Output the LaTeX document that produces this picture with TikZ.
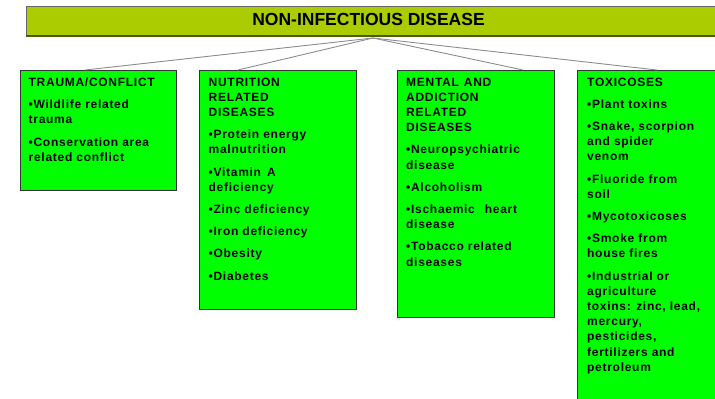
\documentclass[tikz,border=0pt]{standalone}
\usepackage{fontspec}
\setmainfont{Liberation Sans}
\newfontfamily\boxfont[LetterSpace=6]{Liberation Sans}
\usetikzlibrary{calc}
\definecolor{titlegreen}{HTML}{AACC00}
\definecolor{titleedge}{HTML}{4A5A00}
\definecolor{boxgreen}{HTML}{00FF00}
\definecolor{linkgray}{HTML}{8C8C8C}
\begin{document}
\begin{tikzpicture}[x=1pt,y=-1pt,
  titlebox/.style={draw=black!60, line width=0.8pt, fill=titlegreen, anchor=north west, inner sep=0pt, outer sep=0pt},
  titletext/.style={inner sep=0pt, font=\bfseries\fontsize{17.5}{20}\selectfont},
  catbox/.style={draw=black!80, line width=0.9pt, fill=boxgreen, anchor=north west, inner sep=0pt, outer sep=0pt},
  cattext/.style={anchor=north west, inner sep=0pt, align=left, font=\boxfont\fontsize{12}{15.2}\selectfont\bfseries},
  link/.style={draw=linkgray, line width=0.9pt}]
\useasboundingbox (0,0) rectangle (715,399);
\clip (0,0) rectangle (715,399);

% title bar
\node[titlebox, minimum width=700pt, minimum height=30pt] (top) at (26,6) {};
\draw[titleedge, line width=1.6pt] (top.south west) -- (top.south east);
\node[titletext, anchor=base] (title) at (368.5,25.8) {NON-INFECTIOUS DISEASE};

% category boxes
\node[catbox, minimum width=156pt, minimum height=120pt] (trauma) at (20,70) {};
\node[catbox, minimum width=157pt, minimum height=239pt] (nutrition) at (199,70) {};
\node[catbox, minimum width=157pt, minimum height=247pt] (mental) at (397,70) {};
\node[catbox, minimum width=160pt, minimum height=340pt] (toxic) at (577,70) {};

% connectors
\coordinate (apex) at (373,38);
\coordinate (ta) at ($(trauma.north west)+(65,0)$);
\coordinate (na) at ($(nutrition.north west)+(39,0)$);
\coordinate (ma) at ($(mental.north west)+(126,0)$);
\coordinate (xa) at ($(toxic.north west)+(80,0)$);
\draw[link] (apex) -- (ta);
\draw[link] (apex) -- (na);
\draw[link] (apex) -- (ma);
\draw[link] (apex) -- (xa);

% texts
\node[cattext] (traumatext) at (28.5,77.6) {TRAUMA/CONFLICT\\[7pt]
•Wildlife related\\trauma\\[7pt]
•Conservation area\\related conflict};

\node[cattext] (nutritiontext) at (208.5,77.6) {NUTRITION\\RELATED\\DISEASES\\[7pt]
•Protein energy\\malnutrition\\[7pt]
•Vitamin\hspace{6pt}A\\deficiency\\[7pt]
•Zinc deficiency\\[7pt]
•Iron deficiency\\[7pt]
•Obesity\\[7pt]
•Diabetes};

\node[cattext] (mentaltext) at (406,77.6) {MENTAL\hspace{5pt}AND\\ADDICTION\\RELATED\\DISEASES\\[7pt]
•Neuropsychiatric\\disease\\[7pt]
•Alcoholism\\[7pt]
•Ischaemic\hspace{10pt}heart\\disease\\[7pt]
•Tobacco related\\diseases};

\node[cattext] (toxictext) at (587,77.6) {TOXICOSES\\[7pt]
•Plant toxins\\[7pt]
•Snake, scorpion\\and spider\\venom\\[7pt]
•Fluoride from\\soil\\[7pt]
•Mycotoxicoses\\[7pt]
•Smoke from\\house fires\\[7pt]
•Industrial or\\agriculture\\toxins: zinc, lead,\\mercury,\\pesticides,\\fertilizers and\\petroleum};
\end{tikzpicture}
\end{document}
